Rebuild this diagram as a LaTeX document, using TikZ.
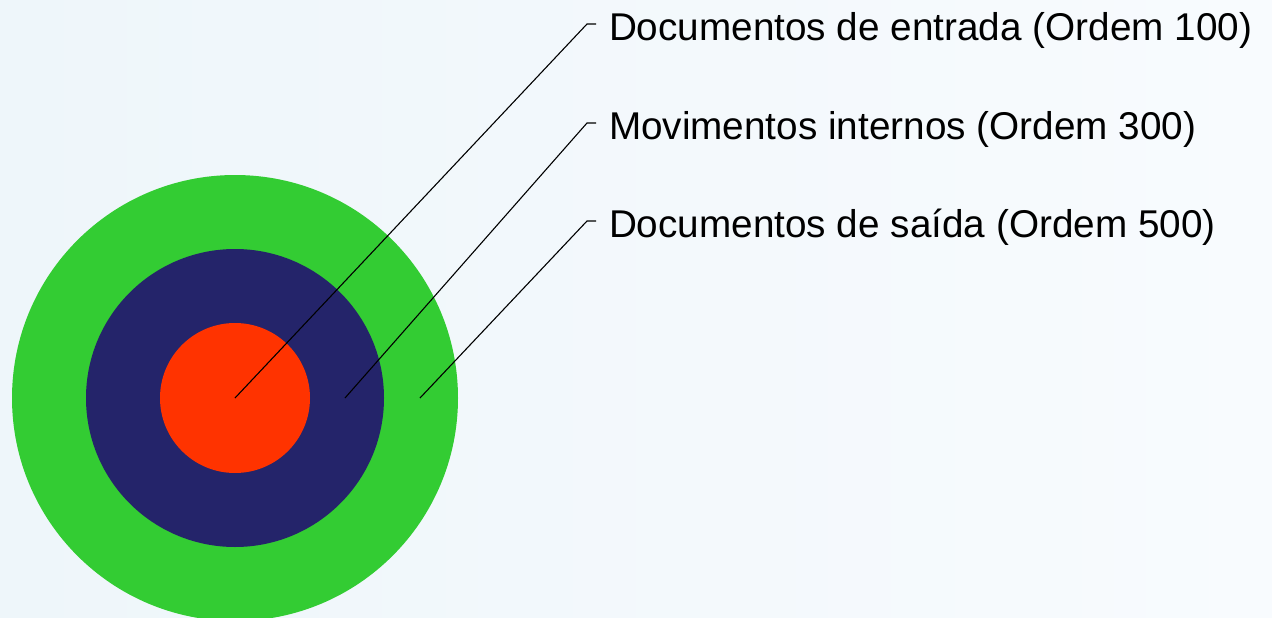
\documentclass[tikz,border=0pt]{standalone}
\usepackage{fontspec}
\setmainfont{Liberation Sans}
\usepackage{tikz}
\usetikzlibrary{calc}
\definecolor{bgblue}{RGB}{238,246,250}
\definecolor{bgwhite}{RGB}{248,251,254}
\definecolor{ringgreen}{RGB}{51,204,51}
\definecolor{ringnavy}{RGB}{36,36,106}
\definecolor{ringred}{RGB}{255,51,0}
\newcommand{\ring}[2]{\fill[#1] (235,398) circle (#2);}
\newcommand{\leader}[3]{\draw[black,line width=1.1pt] (#1) -- (#2) -- (#3);}

\begin{document}
\begin{tikzpicture}[x=1pt,y=-1pt,every node/.style={font=\fontsize{38.7}{42}\selectfont, inner sep=0pt, outer sep=0pt, anchor=base west}]
    \shade[left color=bgblue, right color=bgwhite] (0,0) rectangle (1272,618);
    \useasboundingbox (0,0) rectangle (1272,618);
    \begin{scope}
    \clip (0,0) rectangle (1272,618);
    \ring{ringgreen}{223}
    \ring{ringnavy}{149}
    \ring{ringred}{75}
    \end{scope}
    \coordinate (p1) at (235,398);
    \coordinate (p2) at (345,398);
    \coordinate (p3) at (420,398);
    \coordinate (h1) at (587,24);
    \coordinate (h2) at (587,123);
    \coordinate (h3) at (587,221);
    \coordinate (k1) at (596,24);
    \coordinate (k2) at (596,123);
    \coordinate (k3) at (596,221);
    \node (entrada) at (609,41) {Documentos de entrada (Ordem 100)};
    \node (internos) at (609,139) {Movimentos internos (Ordem 300)};
    \node (saida) at (609,237) {Documentos de saída (Ordem 500)};
    \leader{p1}{h1}{k1}
    \leader{p2}{h2}{k2}
    \leader{p3}{h3}{k3}
    \end{tikzpicture}
\end{document}
